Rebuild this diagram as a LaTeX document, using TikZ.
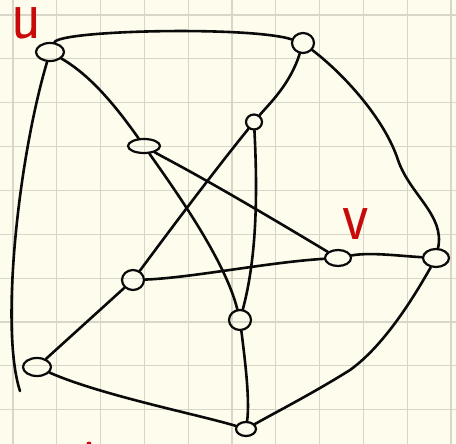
\documentclass[tikz,border=0pt]{standalone}
\usepackage{fontspec}
\usetikzlibrary{shapes.geometric}
\definecolor{paper}{RGB}{253,252,237}
\definecolor{gridc}{RGB}{216,214,200}
\definecolor{ink}{RGB}{10,10,10}
\definecolor{pen}{RGB}{200,10,10}
\tikzset{
  vtx/.style={draw=ink, ellipse, line width=2.2pt, inner sep=0pt},
  edge/.style={draw=ink, line width=2.6pt, line cap=round},
  lbl/.style={text=pen, font=\fontsize{72}{72}\selectfont\sffamily, inner sep=0pt, anchor=base, xscale=0.85}
}
\begin{document}
\begin{tikzpicture}[x=1pt,y=-1pt]
\fill[paper] (0,0) rectangle (456,444);
\useasboundingbox (0,0) rectangle (456,444);
\foreach \i in {0,...,10} {
  \draw[gridc, line width=1.1pt] ({13+43.8*\i},0) -- ({13+43.8*\i},444);
  \draw[gridc, line width=1.1pt] (0,{15+43.85*\i}) -- (456,{15+43.85*\i});
}
% vertices
\node[vtx, minimum width=28pt, minimum height=18pt] (u) at (50,52) {};
\node[vtx, minimum width=32pt, minimum height=14pt] (a) at (144,146) {};
\node[vtx, minimum width=22pt, minimum height=20pt] (b) at (303,43) {};
\node[vtx, minimum width=16pt, minimum height=15pt] (c) at (254,122) {};
\node[vtx, minimum width=26pt, minimum height=16pt] (v) at (338,258) {};
\node[vtx, minimum width=26pt, minimum height=18pt] (d) at (436,258) {};
\node[vtx, minimum width=22pt, minimum height=20pt] (e) at (133,280) {};
\node[vtx, minimum width=22pt, minimum height=20pt] (f) at (240,320) {};
\node[vtx, minimum width=28pt, minimum height=18pt] (g) at (37,367) {};
\node[vtx, minimum width=20pt, minimum height=14pt] (h) at (246,429) {};
\coordinate (gt) at (20,391);
% edges
\draw[edge] (u) .. controls (60,30) and (250,26) .. (b);
\draw[edge] (u) .. controls (18,160) and (0,330) .. (gt);
\draw[edge] (u) .. controls (90,75) and (115,105) .. (a);
\draw[edge] (a) .. controls (168,160) and (200,175) .. (v);
\draw[edge] (a) .. controls (175,190) and (225,260) .. (f);
\draw[edge] (b) .. controls (290,85) and (268,105) .. (c);
\draw[edge] (c) .. controls (215,170) and (170,230) .. (e);
\draw[edge] (c) .. controls (258,200) and (256,260) .. (f);
\draw[edge] (b) .. controls (345,75) and (385,120) .. (398,160) .. controls (410,195) and (445,215) .. (d);
\draw[edge] (e) .. controls (190,278) and (270,262) .. (v);
\draw[edge] (v) .. controls (370,252) and (400,256) .. (d);
\draw[edge] (e) -- (g);
\draw[edge] (g) .. controls (100,395) and (200,415) .. (h);
\draw[edge] (f) .. controls (245,360) and (250,400) .. (h);
\draw[edge] (d) .. controls (415,295) and (385,345) .. (350,370) .. controls (315,392) and (280,410) .. (h);
% labels
\node[lbl] (lu) at (26,39) {u};
\node[lbl] (lv) at (356,240) {v};
\fill[pen] (89,444) circle (2.5pt);
\end{tikzpicture}
\end{document}
